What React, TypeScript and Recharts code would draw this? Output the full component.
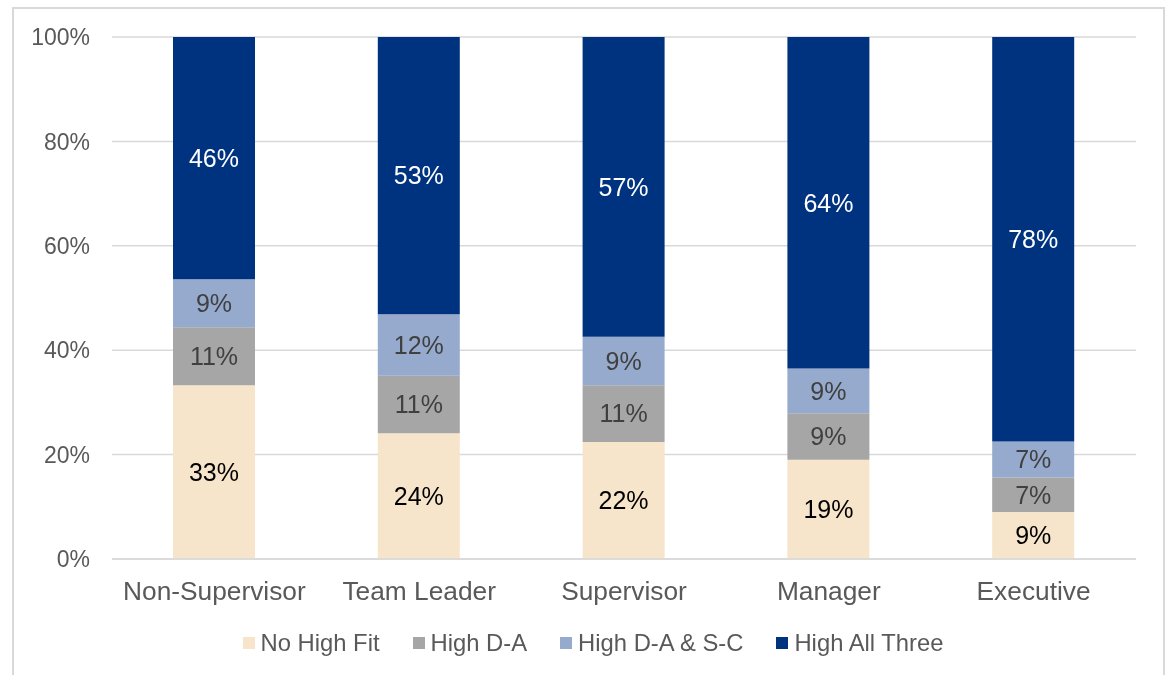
import React from 'react';
import { BarChart, Bar, XAxis, YAxis, CartesianGrid, Legend, LabelList } from 'recharts';

const categories = ['Non-Supervisor', 'Team Leader', 'Supervisor', 'Manager', 'Executive'];
const noHighFit = [33.3, 24.1, 22.4, 19.0, 9.0];
const highDA = [11.1, 11.0, 10.9, 8.9, 6.6];
const highDASC = [9.2, 11.8, 9.3, 8.6, 6.9];
const highAllThree = [46.4, 53.1, 57.4, 63.5, 77.5];
const yTicks = [0, 20, 40, 60, 80, 100];

const seriesDefs = [
  { key: 'noHighFit', name: 'No High Fit', color: '#F6E5CA', label: '#000000' },
  { key: 'highDA', name: 'High D-A', color: '#A6A6A6', label: '#404040' },
  { key: 'highDASC', name: 'High D-A & S-C', color: '#95AACC', label: '#404040' },
  { key: 'highAllThree', name: 'High All Three', color: '#00337F', label: '#FFFFFF' },
];

const data = categories.map((c, i) => ({
  category: c,
  noHighFit: noHighFit[i],
  highDA: highDA[i],
  highDASC: highDASC[i],
  highAllThree: highAllThree[i],
}));

const FONT = '"Liberation Sans", Arial, sans-serif';

const LegendContent = () => (
  <div
    style={{
      height: 30,
      display: 'flex',
      justifyContent: 'center',
      alignItems: 'center',
      fontFamily: FONT,
      fontSize: 23.8,
      color: '#595959',
      paddingLeft: 50,
    }}
  >
    {seriesDefs.map((s, i) => (
      <div key={s.key} style={{ display: 'flex', alignItems: 'center', marginRight: i < seriesDefs.length - 1 ? 33 : 0 }}>
        <span style={{ display: 'inline-block', width: 12, height: 12, background: s.color, marginRight: 6 }} />
        <span>{s.name}</span>
      </div>
    ))}
  </div>
);

export default function App() {
  return (
    <div>
      <div
        style={{
          position: 'fixed',
          left: 12,
          top: 7,
          width: 1153,
          height: 720,
          border: '2px solid #d9d9d9',
          boxSizing: 'border-box',
        }}
      />
      <div style={{ position: 'fixed', left: 0, top: 0, width: 1166, height: 675, fontFamily: FONT }}>
        <BarChart
          width={1166}
          height={675}
          data={data}
          margin={{ top: 37, right: 30, left: 0, bottom: 17 }}
        >
          <CartesianGrid vertical={false} stroke="#d9d9d9" strokeWidth={1.5} />
          <XAxis
            dataKey="category"
            axisLine={{ stroke: '#d9d9d9', strokeWidth: 1.5 }}
            tickLine={false}
            tickMargin={16}
            height={69}
            tick={{ fill: '#595959', fontSize: 26.3, fontFamily: FONT }}
            interval={0}
          />
          <YAxis
            width={112}
            domain={[0, 100]}
            ticks={yTicks}
            axisLine={false}
            tickLine={false}
            tickMargin={16}
            tickFormatter={(v: number) => `${v}%`}
            tick={{ fill: '#595959', fontSize: 23, fontFamily: FONT }}
          />
          <Legend verticalAlign="bottom" content={<LegendContent />} />
          {seriesDefs.map((s) => (
            <Bar key={s.key} dataKey={s.key} name={s.name} stackId="a" fill={s.color} barSize={82} isAnimationActive={false}>
              <LabelList
                dataKey={s.key}
                position="center"
                fill={s.label}
                fontSize={25}
                fontFamily={FONT}
                formatter={(v: number) => `${Math.round(v)}%`}
              />
            </Bar>
          ))}
        </BarChart>
      </div>
    </div>
  );
}
